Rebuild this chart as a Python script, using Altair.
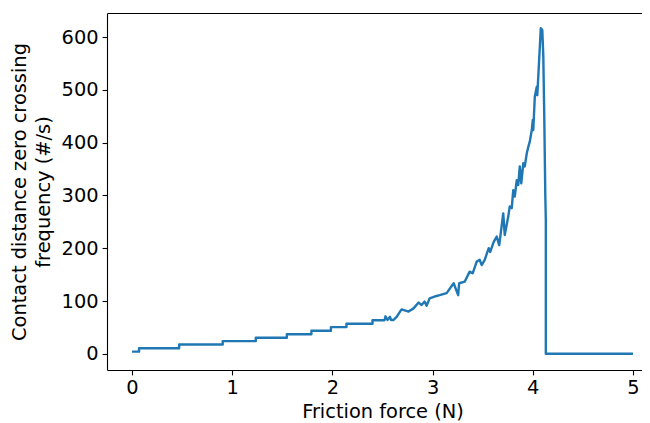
import altair as alt
import pandas as pd

# Friction force (N)
force = [
    0.00, 0.07, 0.07, 0.47, 0.47, 0.905, 0.905, 1.235, 1.235, 1.545, 1.545,
    1.79, 1.79, 1.985, 1.985, 2.14, 2.14, 2.40, 2.40, 2.52, 2.53, 2.55,
    2.575, 2.585, 2.61, 2.645, 2.665, 2.69, 2.76, 2.81, 2.86, 2.89, 2.92,
    2.94, 2.97, 3.04, 3.07, 3.14, 3.21, 3.255, 3.265, 3.32, 3.37, 3.40,
    3.44, 3.47, 3.49, 3.52, 3.56, 3.575, 3.61, 3.64, 3.665, 3.705, 3.72,
    3.755, 3.77, 3.79, 3.805, 3.82, 3.84, 3.855, 3.87, 3.885, 3.905, 3.92,
    3.94, 3.955, 3.97, 3.99, 4.00, 4.005, 4.02, 4.04, 4.045, 4.065, 4.08,
    4.095, 4.105, 4.115, 4.125, 4.13, 4.13, 5.00,
]
# Contact distance zero crossing frequency (#/s)
freq = [
    4, 4, 10.5, 10.5, 17.5, 17.5, 24, 24, 30.5, 30.5, 37,
    37, 43.5, 43.5, 50.5, 50.5, 57, 57, 63.5, 63.5, 71, 64,
    70, 64, 64, 71, 77, 84, 80, 86, 97, 92.5, 99,
    91, 105, 109.5, 111, 115, 133.6, 111, 133.6, 136.6, 155.6, 152.5,
    174.6, 178, 168, 178, 200, 193, 212, 222, 206, 266, 225,
    260, 279, 276, 310, 298, 329, 320, 355, 323, 361, 355,
    380, 392, 402, 424, 443, 424, 487, 506, 490, 563, 617,
    613, 563, 443, 298, 253, 0, 0,
]

x_ticks = [0, 1, 2, 3, 4, 5]
y_ticks = [0, 100, 200, 300, 400, 500, 600]

df = pd.DataFrame({"force": force, "freq": freq, "i": list(range(len(force)))})

FONT = "DejaVu Sans"
FS = 19.4

xscale = alt.Scale(domain=[-0.25, 5.09], nice=False, zero=False)
yscale = alt.Scale(domain=[-30.75, 645.75], nice=False, zero=False)

yenc = alt.Y(
    "freq:Q",
    scale=yscale,
    axis=alt.Axis(
        values=y_ticks,
        title=["Contact distance zero crossing", "frequency (#/s)"],
        titlePadding=8,
        titleLineHeight=23.3,
    ),
)

base = alt.Chart(df)

line = base.mark_line(color="#1f77b4", strokeWidth=2.4, strokeJoin="round").encode(
    x=alt.X(
        "force:Q",
        scale=xscale,
        axis=alt.Axis(
            values=x_ticks,
            title="Friction force (N)",
            titlePadding=5,
            titleX=275.5,
        ),
    ),
    y=yenc,
    order=alt.Order("i:Q"),
)

top = base.mark_line(opacity=0).encode(
    x=alt.X(
        "force:Q",
        scale=xscale,
        axis=alt.Axis(orient="top", labels=False, ticks=False, title=None, domain=True),
    ),
    y=yenc,
    order=alt.Order("i:Q"),
)

chart = (
    alt.layer(line, top)
    .resolve_axis(x="independent")
    .properties(
        width=535,
        height=357,
        autosize=alt.AutoSizeParams(type="none"),
        padding={"left": 99, "top": 5, "right": 0, "bottom": 53},
    )
    .configure_view(stroke=None)
    .configure_axis(
        grid=False,
        domainColor="black",
        domainWidth=1.1,
        tickColor="black",
        tickWidth=1.1,
        tickSize=4.9,
        labelPadding=4,
        labelFont=FONT,
        labelFontSize=FS,
        labelColor="black",
        titleFont=FONT,
        titleFontSize=FS,
        titleFontWeight="normal",
        titleColor="black",
    )
)

chart.save("out.html", embed_options={"renderer": "svg", "actions": False})
